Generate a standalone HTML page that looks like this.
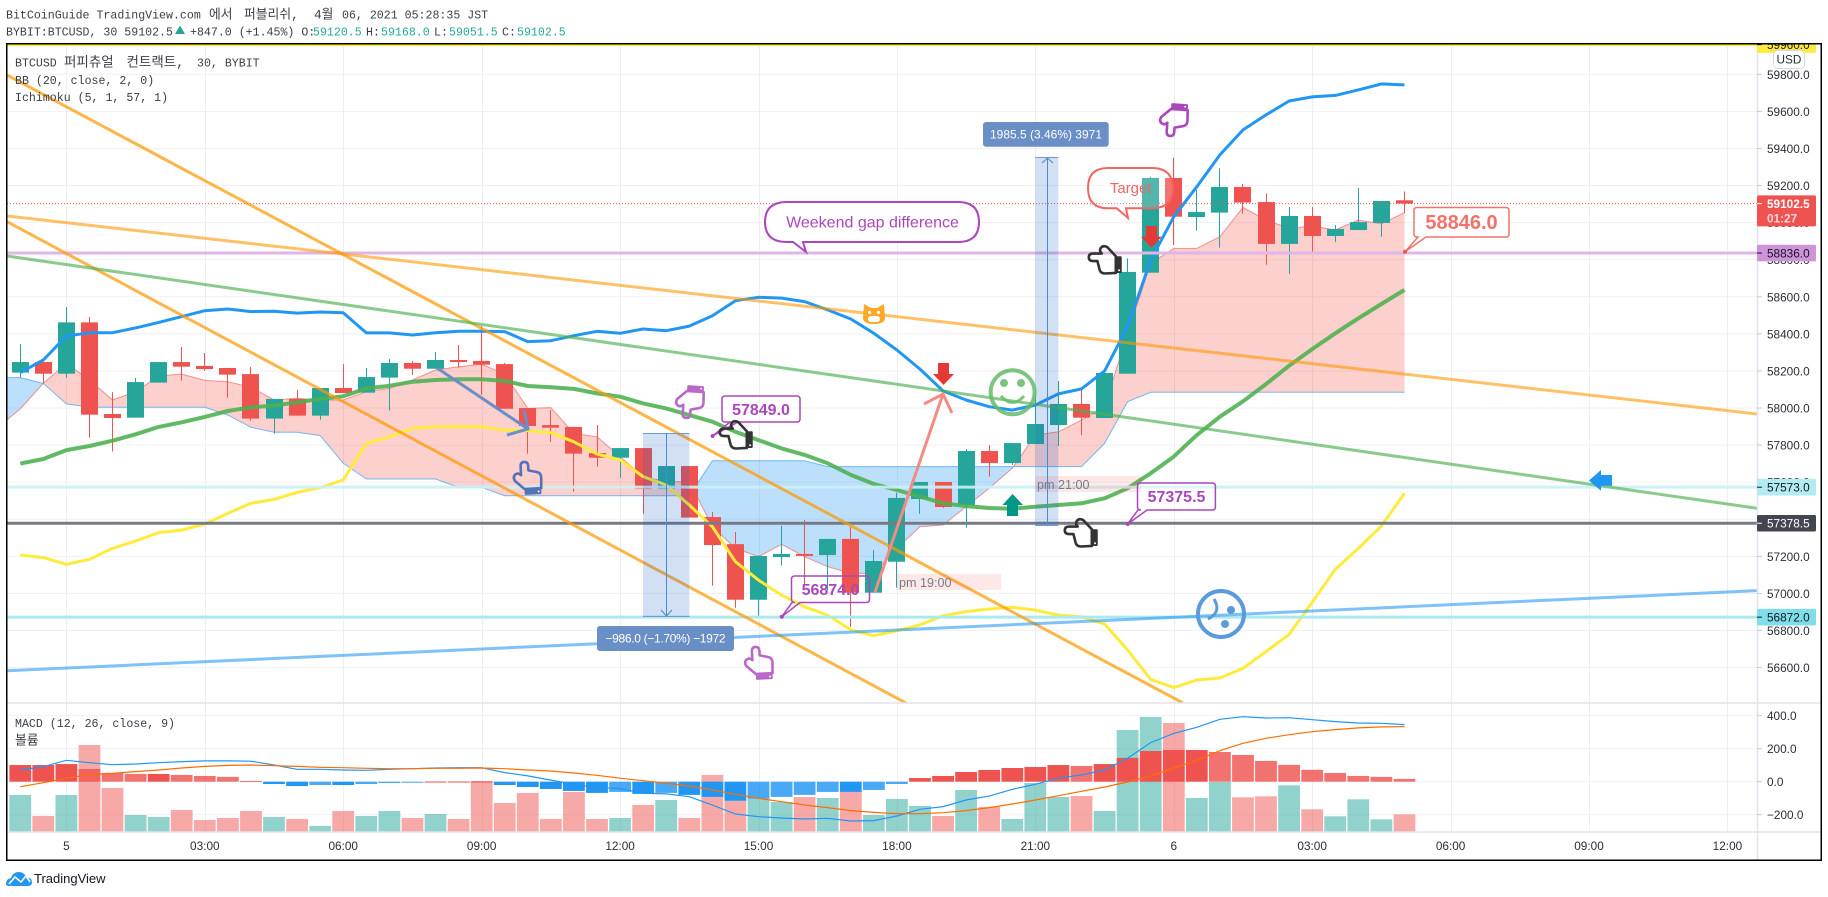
<!DOCTYPE html>
<html lang="ko">
<head>
<meta charset="utf-8">
<title>BTCUSD 30 chart</title>
<style>
html,body{margin:0;padding:0;background:#fff;width:1828px;height:897px;overflow:hidden}
svg{display:block}
text{font-family:"Liberation Sans","Noto Sans CJK KR",sans-serif}
.mono{font-family:"Liberation Mono","Noto Sans CJK KR",monospace;font-size:11.6px;fill:#3a3e48}
.kr{font-family:"Liberation Mono","Noto Sans CJK KR",monospace;font-size:12.8px;fill:#3a3e48}
.krl{font-family:"Liberation Mono","Noto Sans CJK KR",monospace;font-size:13.5px;fill:#3a3e48}
.ax{font-size:11.8px;fill:#2a2e39}
</style>
</head>
<body>
<svg id="chart" width="1828" height="897" viewBox="0 0 1828 897" xmlns="http://www.w3.org/2000/svg">
<defs>
<clipPath id="mainClip"><rect x="7" y="44" width="1750" height="659"/></clipPath>
<clipPath id="macdClip"><rect x="7" y="704" width="1750" height="128"/></clipPath>
<clipPath id="axisClip"><rect x="1757" y="44" width="64" height="660"/></clipPath>
<g id="handShape">
<path d="M-6,-4 L-6,-11 Q-6,-15 -2.5,-15 Q1,-15 1,-11 L1,-7 L9,-5 Q12.5,-4 12.5,0 L12,10 L-3.5,10 L-12,2 Q-14,-2 -11,-4 Q-8.5,-5.5 -6,-3" fill="none" stroke="currentColor" stroke-width="2.4" stroke-linejoin="round" stroke-linecap="round"/>
<rect x="-3.5" y="10" width="15.5" height="5.5" rx="1" fill="currentColor"/>
<circle cx="9.5" cy="13" r="0.9" fill="#fff"/>
</g>
</defs>

<g>
<text class="mono" x="6" y="18.5">BitCoinGuide TradingView.com</text>
<text class="kr" x="209" y="18.5">에서</text>
<text class="kr" x="244" y="18.5">퍼블리쉬,</text>
<text class="kr" x="314" y="18.5">4월</text>
<text class="mono" x="342" y="18.5">06, 2021 05:28:35 JST</text>
<text class="mono" x="6" y="35.5">BYBIT:BTCUSD, 30 59102.5</text>
<path d="M180,25.5 L185,34 L175,34 Z" fill="#26a69a"/>
<text class="mono" x="190" y="35.5">+847.0 (+1.45%) O:</text>
<text class="mono" x="313" y="35.5" fill="#26a69a" style="fill:#26a69a">59120.5</text>
<text class="mono" x="366" y="35.5">H:</text>
<text class="mono" x="381" y="35.5" style="fill:#26a69a">59168.0</text>
<text class="mono" x="434" y="35.5">L:</text>
<text class="mono" x="449" y="35.5" style="fill:#26a69a">59051.5</text>
<text class="mono" x="502" y="35.5">C:</text>
<text class="mono" x="517" y="35.5" style="fill:#26a69a">59102.5</text>
</g>

<g id="grid"></g>
<g id="volumes" clip-path="url(#macdClip)"></g>
<g id="hist" clip-path="url(#macdClip)"></g>
<g id="macdLines" clip-path="url(#macdClip)"></g>
<g id="cloud" clip-path="url(#mainClip)"></g>
<g id="candles" clip-path="url(#mainClip)"></g>
<g id="overlays" clip-path="url(#mainClip)"></g>
<g id="priceLines" clip-path="url(#mainClip)"></g>
<g id="trendLines" clip-path="url(#mainClip)"></g>

<g>
<g stroke="#6a8fc8" stroke-width="3" fill="none">
<path d="M437,368 L528,429 M524,410 L528,429 L507,435"/>
</g>
<g stroke="#f28b82" stroke-width="3" fill="none">
<path d="M875,592 L943,394 M924,404 L943,394 L952,413"/>
</g>

<g>
<rect x="643" y="433" width="46.3" height="183.7" fill="#1e66c8" fill-opacity="0.2"/>
<path d="M643,433.5 H689.3 M643,616.5 H689.3" stroke="#6c9bd8" stroke-width="1"/>
<path d="M666.5,433 V616 M661,610 L666.5,616 L672,610" stroke="#4a8ad0" stroke-width="1" fill="none"/>
<rect x="597" y="626" width="137" height="25" rx="3" fill="#6a8fc6"/>
<text x="665.5" y="642.5" text-anchor="middle" font-size="12" fill="#fff" textLength="120">−986.0 (−1.70%) −1972</text>
</g>
<g>
<rect x="1035.3" y="157.3" width="23" height="368.4" fill="#1e66c8" fill-opacity="0.2"/>
<path d="M1035.3,157.5 H1058.3 M1035.3,525.5 H1058.3" stroke="#6c9bd8" stroke-width="1"/>
<path d="M1047.5,158 V525 M1042,163 L1047.5,158 L1053,163" stroke="#4a8ad0" stroke-width="1" fill="none"/>
<rect x="983" y="122" width="125.7" height="24.7" rx="3" fill="#6a8fc6"/>
<text x="1046" y="138.5" text-anchor="middle" font-size="12" fill="#fff" textLength="112">1985.5 (3.46%) 3971</text>
</g>

<g>
<rect x="897" y="574" width="104" height="16" fill="#f44336" fill-opacity="0.12"/>
<text x="899" y="587" font-size="12.6" fill="#787b86">pm 19:00</text>
</g>
<g>
<rect x="1035" y="476" width="106.5" height="16" fill="#f44336" fill-opacity="0.12"/>
<text x="1037" y="489" font-size="12.6" fill="#787b86">pm 21:00</text>
</g>

<g>
<path d="M726,396 H797 Q800,396 800,399 V419 Q800,422 797,422 H738 L712.6,436 L730,422 H725 Q722,422 722,419 V399 Q722,396 725,396 Z" fill="#fff" fill-opacity="0.3" stroke="#ab47bc" stroke-width="1.5"/>
<circle cx="712.6" cy="436" r="2" fill="#ab47bc"/>
<text x="761" y="415" text-anchor="middle" font-size="16" font-weight="bold" fill="#ab47bc">57849.0</text>
</g>
<g>
<path d="M795,576 H866 Q869.5,576 869.5,579 V599.5 Q869.5,602.5 866,602.5 H800 L781.8,616.7 L792,602.5 H795 Q791.5,602.5 791.5,599.5 V579 Q791.5,576 795,576 Z" fill="none" stroke="#ab47bc" stroke-width="1.5"/>
<circle cx="781.8" cy="616.7" r="2" fill="#ab47bc"/>
<text x="830.5" y="595" text-anchor="middle" font-size="16" font-weight="bold" fill="#ab47bc">56874.0</text>
</g>
<g>
<path d="M1141,483 H1212 Q1215.4,483 1215.4,486 V507 Q1215.4,510 1212,510 H1147 L1127.7,524 L1138,510 H1141 Q1137.5,510 1137.5,507 V486 Q1137.5,483 1141,483 Z" fill="#fff" fill-opacity="0.3" stroke="#ab47bc" stroke-width="1.5"/>
<circle cx="1127.7" cy="524" r="2" fill="#ab47bc"/>
<text x="1176.5" y="502" text-anchor="middle" font-size="16" font-weight="bold" fill="#ab47bc">57375.5</text>
</g>
<g>
<path d="M1417,207.5 H1506 Q1509,207.5 1509,210.5 V234 Q1509,237 1506,237 H1426 L1405,251.7 L1418,237 H1417 Q1414,237 1414,234 V210.5 Q1414,207.5 1417,207.5 Z" fill="#fff" stroke="#f2726c" stroke-width="1.5"/>
<circle cx="1405" cy="251.7" r="2" fill="#ef5350"/>
<text x="1461.5" y="229" text-anchor="middle" font-size="20" font-weight="bold" fill="#f2726c">58846.0</text>
</g>

<g>
<path d="M787,202 H958 Q979,202 979,222 Q979,242 958,242 H803 L806,252 L793,242 H787 Q765,242 765,222 Q765,202 787,202 Z" fill="#fff" stroke="#ab47bc" stroke-width="2"/>
<text x="872.5" y="227.5" text-anchor="middle" font-size="16" fill="#ab47bc">Weekend gap difference</text>
</g>
<g>
<path d="M1108,168 H1152 Q1172.7,168 1172.7,188 Q1172.7,208.3 1152,208.3 H1126 L1128,218 L1116.7,208.3 H1108 Q1088,208.3 1088,188 Q1088,168 1108,168 Z" fill="#fff" fill-opacity="0.2" stroke="#f2665f" stroke-width="2"/>
<text x="1130.7" y="193" text-anchor="middle" font-size="15" fill="#f2665f">Target</text>
</g>

<g>
<use href="#handShape" transform="translate(527.7,478) rotate(-3) scale(1.08)" color="#5472b8"/>
<use href="#handShape" transform="translate(690,402) rotate(4) scale(1.08,-1.08)" color="#ba68c8"/>
<use href="#handShape" transform="translate(736,435) rotate(-90) scale(-1.08,1.08)" color="#333333"/>
<use href="#handShape" transform="translate(759,663) rotate(-3) scale(1.08)" color="#ba68c8"/>
<use href="#handShape" transform="translate(1081,533) rotate(-90) scale(-1.08,1.08)" color="#333333"/>
<use href="#handShape" transform="translate(1105,260) rotate(-90) scale(-1.08,1.08)" color="#333333"/>
<use href="#handShape" transform="translate(1174,120) rotate(4) scale(1.08,-1.08)" color="#ab47bc"/>
</g>

<g opacity="0.85">
<circle cx="1012.6" cy="392.3" r="22" fill="none" stroke="#66bb6a" stroke-width="4"/>
<circle cx="1004" cy="383" r="4" fill="#66bb6a"/><circle cx="1021" cy="383" r="4" fill="#66bb6a"/>
<path d="M1001,396 Q1012.5,409 1024,396" fill="none" stroke="#66bb6a" stroke-width="3"/>
</g>
<g>
<circle cx="1221" cy="614" r="23" fill="none" stroke="#5b9bdb" stroke-width="4"/>
<circle cx="1231" cy="610" r="4" fill="#5b9bdb"/><circle cx="1225" cy="624" r="4" fill="#5b9bdb"/>
<path d="M1214,599 Q1222,612 1208,619" fill="none" stroke="#5b9bdb" stroke-width="3"/>
</g>
<g>
<path d="M864,304 L871,308 H877 L884,304 L885,318 Q885,324 874,324 Q863,324 863,318 Z" fill="#ffa726"/>
<rect x="868" y="316" width="12" height="6" rx="3" fill="#fff"/>
<circle cx="869.5" cy="312.5" r="1.6" fill="#fff"/><circle cx="878.5" cy="312.5" r="1.6" fill="#fff"/>
</g>
<path d="M938,363 H949 V374 H954 L943.5,385 L933,374 H938 Z" fill="#e53935"/>
<path d="M1146,226 H1157 V236.7 H1161.7 L1151.4,247.7 L1141,236.7 H1146 Z" fill="#e53935"/>
<path d="M1007,516 H1018 V505 H1023 L1012.6,494 L1002.4,505 H1007 Z" fill="#009688"/>
<path d="M1612,475 V485.7 H1601 V490.7 L1589,480.5 L1601,470 V475 Z" fill="#2196f3"/>
</g>

<g>
<text class="mono" x="15" y="66.5">BTCUSD</text>
<text class="krl" x="64" y="66.5">퍼피츄얼</text>
<text class="krl" x="126.5" y="66.5">컨트랙트,</text>
<text class="mono" x="197" y="66.5">30, BYBIT</text>
<text class="mono" x="15" y="84">BB (20, close, 2, 0)</text>
<text class="mono" x="15" y="101">Ichimoku (5, 1, 57, 1)</text>
<text class="mono" x="15" y="727">MACD (12, 26, close, 9)</text>
<text class="kr" x="15" y="744.5">볼륨</text>
</g>

<g id="axes"></g>

<g>
<rect x="1773.5" y="50.5" width="31" height="18" rx="4" fill="#fff" stroke="#d6d8e0"/>
<text x="1789" y="63.5" text-anchor="middle" font-size="11.8" fill="#2a2e39">USD</text>
</g>

<rect x="6.75" y="43.75" width="1814.5" height="816.5" fill="none" stroke="#000" stroke-width="1.5"/>

<g>
<path d="M6,884 Q6,879 11,878 Q13,872 19,872 Q24,872 26,877 Q32,878 32,882 Q32,886 28,886 H9 Q6,886 6,884 Z" fill="#2196f3"/>
<path d="M9,884 L15,877 L21,882 L26,876 L30,882" fill="none" stroke="#fff" stroke-width="1.6"/>
<text x="34" y="883" font-size="13" fill="#131722">TradingView</text>
</g>
</svg>

<script>
const firstBar = -2;
const spanFirstBar = -3;
const opens = [58191,58248,58185,58462,57968,57948,58137,58248,58227,58216,58183,57943,58049,57959,58108,58083,58164,58243,58212,58259,58254,58237,58000,57908,57898,57757,57732,57784,57563,57687,57412,57266,56966,57196,57213,57207,57294,57004,57171,57509,57601,57477,57768,57703,57806,57908,58022,57946,58185,58730,59241,59030,59054,59192,59111,58885,59036,58928,58960,58998,59120.5];
const highs = [58345,58248,58545,58491,58086,58162,58248,58329,58297,58216,58221,58049,58097,58108,58237,58216,58264,58254,58302,58340,58442,58243,58000,57989,57898,57908,57784,57784,57687,57687,57439,57331,57205,57364,57396,57294,57358,57234,57543,57601,57601,57779,57800,57811,58070,58146,58097,58189,58807,59248,59349,59176,59293,59208,59158,59084,59084,58987,59187,59117,59168];
const lows = [58164,58133,58164,57840,57765,57948,58137,58148,58201,58056,57932,57862,57959,57937,58081,58083,57986,58178,58212,58218,58072,57996,57754,57818,57549,57684,57624,57430,57540,57409,57042,56923,56878,57150,57042,57018,56819,57004,57031,57430,57461,57355,57630,57693,57806,57795,57854,57946,58185,58730,58879,58957,58865,59048,58773,58723,58838,58895,58960,58924,59051.5];
const closes = [58248,58185,58462,57964,57946,58140,58248,58223,58210,58180,57943,58049,57959,58108,58081,58167,58243,58212,58259,58248,58234,57996,57903,57894,57754,57732,57784,57563,57687,57409,57261,56966,57202,57213,57207,57294,57004,57175,57515,57601,57466,57768,57703,57811,57914,58022,57948,58189,58734,59241,59032,59057,59192,59108,58885,59036,58928,58966,59003,59117,59102.5];
const bbUpper = [58191,58259,58388,58406,58406,58432,58462,58493,58525,58534,58520,58522,58512,58518,58514,58405,58405,58394,58406,58414,58414,58412,58358,58363,58390,58414,58403,58426,58417,58442,58498,58579,58597,58593,58574,58529,58480,58403,58313,58210,58092,58043,58007,57989,58016,58076,58103,58200,58439,58798,59032,59194,59365,59500,59581,59656,59678,59686,59716,59748,59743];
const spanA = [57892,57995,58133,58241,58151,58043,58088,58173,58183,58149,58142,58112,58043,58052,58043,58043,58088,58106,58151,58205,58223,58236,58183,57998,58002,57863,57845,57738,57630,57603,57603,57360,57243,57198,57265,57198,57144,57108,57108,57243,57360,57369,57468,57567,57675,57854,57872,57935,58007,58403,58780,58861,58861,58924,59082,59014,58969,58982,58960,59014,58993,59054];
const spanB = [58164,58164,58133,58022,58004,58004,58004,58004,58004,58004,57962,57896,57869,57869,57851,57702,57617,57617,57617,57617,57572,57572,57527,57527,57527,57527,57527,57527,57527,57527,57527,57716,57716,57716,57716,57716,57684,57684,57684,57684,57684,57684,57684,57684,57684,57684,57684,57684,57809,58034,58085,58085,58085,58085,58085,58085,58085,58085,58085,58085,58085,58085];
const ichimokuBase = [57700,57725,57773,57795,57824,57858,57898,57923,57952,57984,58004,58013,58031,58049,58063,58106,58120,58142,58151,58155,58155,58146,58119,58112,58103,58079,58061,58025,57998,57962,57926,57872,57827,57782,57747,57702,57639,57590,57558,57522,57486,57471,57461,57457,57468,57477,57486,57513,57567,57648,57738,57854,57953,58036,58129,58228,58318,58403,58484,58561,58637];
const ichimokuLag = [57207,57193,57157,57184,57243,57283,57328,57342,57374,57432,57486,57507,57545,57570,57612,57809,57845,57890,57898,57899,57899,57881,57878,57867,57818,57752,57720,57630,57585,57477,57360,57171,57072,56991,56928,56883,56803,56772,56799,56830,56880,56902,56916,56925,56910,56883,56874,56835,56695,56536,56492,56533,56544,56596,56686,56779,56952,57130,57243,57364,57540];
const macdHist = [101,101,107,77,53,47,47,41,35,29,4,-14,-26,-20,-20,-14,-8,-2,1,1,1,-20,-32,-44,-56,-68,-62,-74,-68,-80,-92,-116,-104,-92,-80,-62,-62,-50,-14,22,35,59,71,83,89,101,95,107,144,186,192,192,180,162,126,102,72,53,35,29,17];
const macdLine = [71,91,130,115,103,107,115,122,126,126,124,101,75,75,71,69,75,79,83,85,85,55,35,10,-16,-34,-42,-70,-74,-91,-141,-196,-212,-220,-226,-222,-238,-236,-208,-167,-151,-111,-87,-46,-16,21,41,71,142,237,293,330,378,394,386,388,376,364,356,354,346];
const signalLine = [-30,-6,21,41,51,61,71,83,93,99,101,97,93,87,85,81,79,79,81,81,83,79,71,65,53,39,21,6,-10,-26,-50,-76,-101,-121,-141,-157,-175,-186,-194,-194,-188,-175,-157,-135,-111,-85,-58,-32,-2,35,83,130,188,233,263,285,303,316,326,332,334];
const volumes = [1120,490,1120,2620,1330,520,460,670,370,430,640,460,400,190,640,490,640,430,550,400,1540,880,1180,400,1210,400,430,820,970,430,1720,940,1000,910,1060,1030,1210,520,1000,790,490,1270,760,400,1480,1060,1090,640,3070,3460,3280,1030,1510,1050,1080,1410,690,480,990,390,540];
const priceTicks = [59800,59600,59400,59200,59000,58800,58600,58400,58200,58000,57800,57600,57400,57200,57000,56800,56600];
const macdTicks = [400,200,0,-200];
const timeLabels = ['5','03:00','06:00','09:00','12:00','15:00','18:00','21:00','6','03:00','06:00','09:00','12:00'];
const barsPerTimeTick = 6;
const levelPrices = [59960,59102.5,58836,57573,57378.5,56872];
const levelLabels = ['59960.0','59102.5','58836.0','57573.0','57378.5','56872.0'];
const trendStartBars = [-2.575,-2.575,-2.575,-2.575,-2.575];
const trendStartPrices = [59796,59005,59036,58820,56583];
const trendEndBars = [48.4,36.39,73.28,73.28,73.28];
const trendEndPrices = [56409,56409,57968,57459,57015];

const NS = 'http://www.w3.org/2000/svg';
const xOf = b => 66.4 + 23.07 * b;
const yOf = p => 74.3 + (59800 - p) * 0.1854;
const macdY = v => 781.7 - v * 0.165;
const volH = v => v / 30;
const VOL_BASE = 832.3;

function make(tag, parentId, attrs, content) {
  const el = document.createElementNS(NS, tag);
  for (const k in attrs) el.setAttribute(k, attrs[k]);
  if (content !== undefined) el.textContent = content;
  document.getElementById(parentId).appendChild(el);
  return el;
}
function polyPoints(values, start, yFn) {
  return values.map((v, i) => xOf(start + i).toFixed(1) + ',' + yFn(v).toFixed(1)).join(' ');
}

/* grid */
priceTicks.forEach(p => {
  const g = make('line', 'grid', {x1: 7, x2: 1757, y1: yOf(p), y2: yOf(p), stroke: '#f0f1f5', 'stroke-width': 1});
  
  
});
macdTicks.forEach(v => {
  const g = make('line', 'grid', {x1: 7, x2: 1757, y1: macdY(v), y2: macdY(v), stroke: '#f0f1f5', 'stroke-width': 1});
  
  
});
timeLabels.forEach((t, i) => {
  const x = Math.round(xOf(i * barsPerTimeTick)) + 0.5;
  const g = make('line', 'grid', {x1: x, x2: x, y1: 44, y2: 832, stroke: '#eceef2', 'stroke-width': 1});
  
  
});

/* volume + macd histogram */
volumes.forEach((v, i) => {
  const left = xOf(firstBar + i) - 10.9;
  const r = make('rect', 'volumes', {x: left.toFixed(1), y: VOL_BASE - volH(v), width: 21.8, height: volH(v), fill: closes[i] >= opens[i] ? '#26a69a' : '#ef5350', 'fill-opacity': 0.5});
  
  
});
macdHist.forEach((v, i) => {
  const left = xOf(firstBar + i) - 10.9;
  const prev = i ? macdHist[i - 1] : v;
  const strong = v >= 0 ? v >= prev : v <= prev;
  const top = Math.min(macdY(v), macdY(0));
  const r = make('rect', 'hist', {x: left.toFixed(1), y: top, width: 21.8, height: Math.max(1, Math.abs(macdY(v) - macdY(0))), fill: v >= 0 ? '#ef5350' : '#2196f3', 'fill-opacity': strong ? 1 : 0.82});
  
  
});
const macdPoly = make('polyline', 'macdLines', {points: polyPoints(macdLine, firstBar, macdY), fill: 'none', stroke: '#2196f3', 'stroke-width': 1.2});


const signalPoly = make('polyline', 'macdLines', {points: polyPoints(signalLine, firstBar, macdY), fill: 'none', stroke: '#ff6d00', 'stroke-width': 1.2});



/* ichimoku cloud */
const merged = [];
spanA.forEach((a, i) => {
  const b = spanB[i];
  merged.push({bar: spanFirstBar + i, a, b});
  if (i < spanA.length - 1) {
    const d0 = a - b, d1 = spanA[i + 1] - spanB[i + 1];
    if (d0 * d1 < 0) {
      const t = d0 / (d0 - d1);
      const c = a + (spanA[i + 1] - a) * t;
      merged.push({bar: spanFirstBar + i + t, a: c, b: c});
    }
  }
});
const upperPts = merged.map(m => xOf(m.bar).toFixed(1) + ',' + yOf(Math.max(m.a, m.b)).toFixed(1));
const pinkBack = merged.slice().reverse().map(m => xOf(m.bar).toFixed(1) + ',' + yOf(m.b).toFixed(1));
const blueBack = merged.slice().reverse().map(m => xOf(m.bar).toFixed(1) + ',' + yOf(m.a).toFixed(1));
const pink = make('polygon', 'cloud', {points: upperPts.concat(pinkBack).join(' '), fill: '#f44336', 'fill-opacity': 0.25});


const blue = make('polygon', 'cloud', {points: upperPts.concat(blueBack).join(' '), fill: '#2196f3', 'fill-opacity': 0.3});


const spanAPoly = make('polyline', 'cloud', {points: polyPoints(spanA, spanFirstBar, yOf), fill: 'none', stroke: '#ef5350', 'stroke-opacity': 0.6, 'stroke-width': 1});


const spanBPoly = make('polyline', 'cloud', {points: polyPoints(spanB, spanFirstBar, yOf), fill: 'none', stroke: '#2196f3', 'stroke-opacity': 0.6, 'stroke-width': 1});



/* candles */
opens.forEach((o, i) => {
  const c = closes[i];
  const color = c >= o ? '#26a69a' : '#ef5350';
  const left = Math.round(xOf(firstBar + i) - 8.5);
  const wick = make('line', 'candles', {x1: left + 8.5, x2: left + 8.5, y1: yOf(highs[i]), y2: yOf(lows[i]), stroke: color, 'stroke-width': 1});
  
  
  const top = yOf(Math.max(o, c));
  const body = make('rect', 'candles', {x: left, y: top, width: 17, height: Math.max(2, yOf(Math.min(o, c)) - top), fill: color});
  
  
});

/* indicator lines */
const basePoly = make('polyline', 'overlays', {points: polyPoints(ichimokuBase, firstBar, yOf), fill: 'none', stroke: '#4caf50', 'stroke-opacity': 0.88, 'stroke-width': 4, 'stroke-linejoin': 'round'});


const lagPoly = make('polyline', 'overlays', {points: polyPoints(ichimokuLag, firstBar, yOf), fill: 'none', stroke: '#ffeb3b', 'stroke-width': 3, 'stroke-linejoin': 'round'});


const bbPoly = make('polyline', 'overlays', {points: polyPoints(bbUpper, firstBar, yOf), fill: 'none', stroke: '#2196f3', 'stroke-width': 3, 'stroke-linejoin': 'round'});



/* horizontal levels */
const yellowLevel = make('line', 'priceLines', {x1: 7, x2: 1757, y1: yOf(levelPrices[0]), y2: yOf(levelPrices[0]), stroke: '#ffeb3b', 'stroke-width': 3});


const lastLine = make('line', 'priceLines', {x1: 7, x2: 1757, y1: yOf(levelPrices[1]), y2: yOf(levelPrices[1]), stroke: '#ef5350', 'stroke-width': 1, 'stroke-dasharray': '1 2'});


const purpleLevel = make('line', 'priceLines', {x1: 7, x2: 1757, y1: yOf(levelPrices[2]), y2: yOf(levelPrices[2]), stroke: '#e1b5e7', 'stroke-width': 3});


const cyanLevel = make('line', 'priceLines', {x1: 7, x2: 1757, y1: yOf(levelPrices[3]), y2: yOf(levelPrices[3]), stroke: '#c9f1f5', 'stroke-width': 3, 'stroke-opacity': 0.9});


const darkLevel = make('line', 'priceLines', {x1: 7, x2: 1757, y1: yOf(levelPrices[4]), y2: yOf(levelPrices[4]), stroke: '#787b86', 'stroke-width': 3});


const tealLevel = make('line', 'priceLines', {x1: 7, x2: 1757, y1: yOf(levelPrices[5]), y2: yOf(levelPrices[5]), stroke: '#abe9ef', 'stroke-width': 3});



/* trend lines */
const trendColors = ['#ff9800', '#ff9800', '#ff9800', '#4caf50', '#2196f3'];
const trendOpacity = [0.72, 0.72, 0.6, 0.65, 0.58];
trendStartBars.forEach((b, i) => {
  const l = make('line', 'trendLines', {x1: xOf(b), y1: yOf(trendStartPrices[i]), x2: xOf(trendEndBars[i]), y2: yOf(trendEndPrices[i]), stroke: trendColors[i], 'stroke-opacity': trendOpacity[i], 'stroke-width': 3});
  
  
});

/* axes */
const axesLines = [[1757.5, 44, 1757.5, 860], [7, 703, 1821, 703], [7, 832, 1821, 832]];
axesLines.forEach(a => {
  const l = make('line', 'axes', {x1: a[0], y1: a[1], x2: a[2], y2: a[3], stroke: '#e0e3eb', 'stroke-width': 1.5});
  
  
});
priceTicks.forEach(p => {
  const tick = make('line', 'axes', {x1: 1757, x2: 1762, y1: yOf(p), y2: yOf(p), stroke: '#c8cad2', 'stroke-width': 1});
  
  
  const t = make('text', 'axes', {x: 1767, y: yOf(p) + 4.5, class: 'ax'}, p.toFixed(1));
  
  
});
macdTicks.forEach(v => {
  const tick = make('line', 'axes', {x1: 1757, x2: 1762, y1: macdY(v), y2: macdY(v), stroke: '#c8cad2', 'stroke-width': 1});
  
  
  const t = make('text', 'axes', {x: 1767, y: macdY(v) + 4.5, class: 'ax'}, v.toFixed(1).replace('-', '−'));
  
  
});
timeLabels.forEach((s, i) => {
  const t = make('text', 'axes', {x: xOf(i * barsPerTimeTick), y: 850, class: 'ax', 'text-anchor': 'middle'}, s);
  
  
});

/* price labels */
const labelBackgrounds = ['#ffeb3b', '#ef5350', '#ce93d8', '#b2ebf2', '#434651', '#80deea'];
const labelInk = ['#131722', '#ffffff', '#131722', '#131722', '#ffffff', '#131722'];
levelPrices.forEach((p, i) => {
  const cy = yOf(p);
  const isLast = i === 1;
  const top = cy - 8.3;
  const h = isLast ? 31 : 16.6;
  const r = make('rect', 'axes', {x: 1757, y: top, width: 59, height: h, rx: 1.5, fill: labelBackgrounds[i], 'clip-path': 'url(#axisClip)'});
  
  
  const tick = make('line', 'axes', {x1: 1757, x2: 1762, y1: cy, y2: cy, stroke: labelInk[i], 'stroke-width': 1, 'clip-path': 'url(#axisClip)'});
  
  
  const t = make('text', 'axes', {x: 1767, y: cy + 4.5, class: 'ax', style: 'fill:' + labelInk[i] + (isLast ? ';font-weight:bold' : ''), 'clip-path': 'url(#axisClip)'}, levelLabels[i]);
  
  
});
const countdown = make('text', 'axes', {x: 1767, y: yOf(levelPrices[1]) + 19, class: 'ax', style: 'fill:#ffd6d5;font-weight:bold'}, '01:27');


</script>
</body>
</html>
